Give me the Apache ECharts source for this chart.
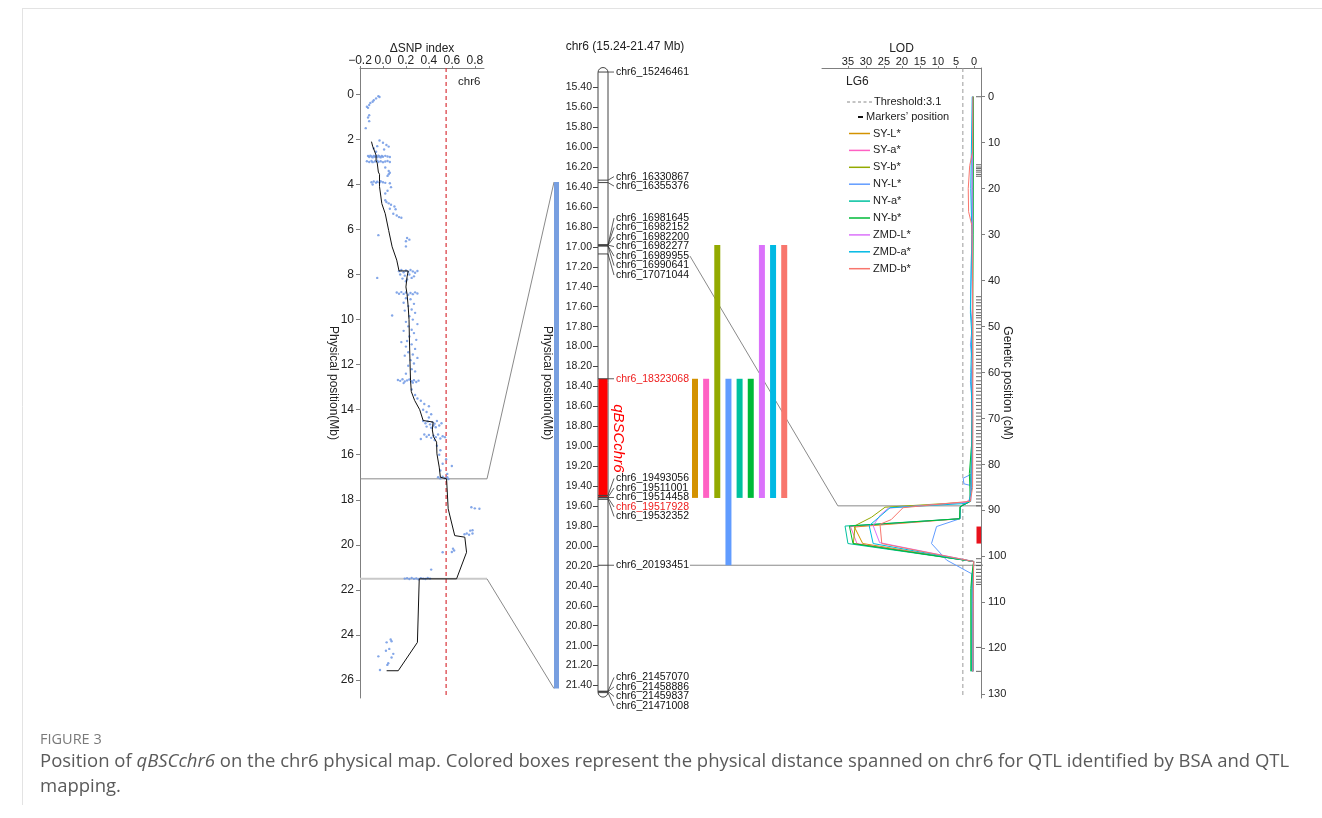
<!DOCTYPE html>
<html><head><meta charset="utf-8">
<script src="https://cdn.jsdelivr.net/npm/echarts@6/dist/echarts.min.js"></script>
<style>html,body{margin:0;padding:0;background:#fff;}#c{width:1322px;height:818px;}</style>
</head><body><div id="c"></div>
<script>
// ---------------- DATA ----------------
// Left panel: ΔSNP index along chr6
const snpXTicks = [-0.2, 0, 0.2, 0.4, 0.6, 0.8];
const snpYTicks = [0, 2, 4, 6, 8, 10, 12, 14, 16, 18, 20, 22, 24, 26];
const snpThreshold = 0.55;
const snpPoints = [
[-0.04,0.08],[-0.03,0.12],[-0.06,0.18],[-0.08,0.26],[-0.09,0.33],[-0.11,0.38],[-0.12,0.47],[-0.14,0.55],[-0.13,0.6],[-0.12,0.93],[-0.13,1.03],[-0.12,1.19],[-0.15,1.5],
[-0.03,2.05],[0.0,2.15],[0.03,2.25],[-0.05,2.3],[0.05,2.32],[-0.08,2.4],[0.01,2.45],[-0.06,2.55],
[-0.13,2.74],[-0.12,2.78],[-0.11,2.72],[-0.1,2.76],[-0.09,2.8],[-0.08,2.73],[-0.07,2.77],[-0.06,2.74],[-0.05,2.79],[-0.04,2.72],[-0.03,2.76],[-0.02,2.8],[-0.01,2.74],[0.0,2.77],[0.02,2.73],[0.04,2.76],[0.06,2.78],
[-0.14,2.97],[-0.12,3.0],[-0.1,2.96],[-0.09,3.01],[-0.07,2.98],[-0.05,2.95],[-0.04,3.0],[-0.02,2.97],[0.0,3.01],[0.02,2.98],[0.04,2.96],[0.06,3.0],
[0.02,3.25],[0.05,3.4],[0.06,3.48],[0.05,3.55],[0.04,3.62],
[-0.1,3.9],[-0.08,3.87],[-0.06,3.92],[-0.05,3.88],[-0.03,3.91],[-0.02,3.86],[0.0,3.9],[0.02,3.93],[-0.09,4.0],[0.06,3.95],[0.07,4.12],[0.04,4.28],[0.02,4.4],
[0.02,4.7],[0.03,4.78],[0.05,4.84],[0.07,4.9],[0.1,4.98],[0.11,5.1],[0.06,5.08],[0.09,5.3],[0.12,5.38],[0.14,5.45],[0.16,5.48],
[-0.04,6.25],[0.21,6.38],[0.23,6.45],[0.2,6.52],[0.2,6.75],
[0.14,7.85],[0.16,7.8],[0.18,7.9],[0.2,7.82],[0.22,7.88],[0.24,7.8],[0.26,7.86],[0.28,7.92],[0.3,7.84],[0.15,8.0],[0.19,8.05],[0.23,8.0],[0.27,8.08],[0.17,8.18],[0.21,8.22],[0.25,8.15],[0.2,8.3],[-0.05,8.15],
[0.12,8.8],[0.14,8.85],[0.16,8.78],[0.18,8.86],[0.2,8.8],[0.22,8.9],[0.24,8.82],[0.26,8.87],[0.28,8.79],[0.3,8.84],
[0.2,9.05],[0.24,9.1],[0.18,9.25],[0.27,9.3],[0.22,9.4],[0.25,9.55],[0.19,9.6],[0.08,9.82],[0.28,9.7],[0.23,9.85],[0.26,10.0],[0.2,10.1],[0.3,10.2],[0.22,10.3],[0.25,10.45],[0.18,10.5],[0.27,10.6],[0.23,10.75],[0.29,10.9],[0.21,10.95],[0.16,11.0],[0.25,11.1],[0.2,11.2],[0.28,11.3],[0.22,11.45],[0.26,11.55],[0.19,11.6],[0.3,11.7],[0.24,11.8],[0.27,11.95],[0.22,12.05],[0.25,12.2],[0.28,12.3],[0.2,12.4],
[0.13,12.68],[0.15,12.72],[0.17,12.65],[0.19,12.75],[0.21,12.7],[0.23,12.66],[0.25,12.74],[0.27,12.69],[0.29,12.77],[0.31,12.71],[0.18,12.82],[0.26,12.8],
[0.25,13.1],[0.28,13.35],[0.3,13.5],[0.33,13.6],[0.36,13.75],[0.4,13.85],[0.35,14.0],[0.38,14.1],[0.42,14.2],[0.4,14.35],
[0.35,14.5],[0.37,14.6],[0.39,14.52],[0.41,14.65],[0.43,14.55],[0.45,14.62],[0.47,14.5],[0.49,14.7],[0.51,14.6],[0.38,14.75],[0.42,14.8],[0.46,14.78],[0.44,14.7],
[0.36,15.1],[0.38,15.2],[0.4,15.12],[0.42,15.25],[0.44,15.15],[0.46,15.22],[0.48,15.1],[0.5,15.28],[0.52,15.18],[0.54,15.22],[0.45,15.35],[0.33,15.3],
[0.47,15.6],[0.5,15.8],[0.49,16.0],[0.55,16.2],[0.52,16.4],[0.6,16.5],[0.5,16.7],[0.56,16.85],
[0.48,17.0],[0.5,17.05],[0.52,16.98],[0.54,17.04],[0.56,17.0],[0.57,17.08],
[0.77,18.33],[0.8,18.38],[0.84,18.4],[0.76,19.37],[0.78,19.35],[0.71,19.53],[0.73,19.5],[0.75,19.55],[0.78,19.5],[0.61,20.17],[0.62,20.25],[0.6,20.32],[0.52,20.33],
[0.42,21.1],
[0.19,21.5],[0.21,21.48],[0.23,21.52],[0.25,21.47],[0.27,21.51],[0.29,21.49],[0.31,21.53],[0.33,21.48],[0.35,21.5],[0.37,21.52],[0.39,21.47],[0.41,21.5],
[0.067,24.2],[0.075,24.28],[0.032,24.33],[0.055,24.62],[0.026,24.7],[0.09,24.84],[0.075,25.0],[-0.04,24.95],[0.046,25.26],[0.038,25.33],[-0.026,25.56]
];
const snpLine = [[-0.1,2.1],[-0.09,2.3],[-0.06,2.7],[-0.055,2.76],[-0.06,2.95],[-0.05,3.05],[-0.04,3.45],[-0.03,3.55],[-0.03,3.88],[-0.04,3.9],[-0.03,4.1],[-0.01,4.85],[0.02,5.3],[0.04,5.8],[0.05,6.05],[0.08,6.77],[0.12,7.36],[0.14,7.84],[0.22,7.84],[0.21,8.1],[0.2,8.55],[0.21,8.88],[0.22,9.44],[0.227,10.0],[0.23,10.77],[0.235,11.8],[0.24,12.7],[0.247,13.2],[0.276,13.59],[0.32,14.0],[0.35,14.48],[0.437,14.55],[0.43,14.9],[0.44,15.2],[0.467,15.44],[0.47,15.96],[0.49,16.55],[0.5,17.0],[0.554,17.07],[0.568,18.4],[0.625,19.59],[0.713,19.66],[0.728,20.33],[0.641,21.51],[0.316,21.51],[0.3,24.33],[0.133,25.59],[0.032,25.59]];
const snpWindow = [17.07, 21.51];     // zoomed window on the ΔSNP plot (Mb)
const bsaBar = [16.35, 21.43];        // blue BSA bar on the physical map (Mb)

// Middle panel: chr6 physical map
const chromTitle = 'chr6 (15.24-21.47 Mb)';
const chromTicks = [15.4,15.6,15.8,16.0,16.2,16.4,16.6,16.8,17.0,17.2,17.4,17.6,17.8,18.0,18.2,18.4,18.6,18.8,19.0,19.2,19.4,19.6,19.8,20.0,20.2,20.4,20.6,20.8,21.0,21.2,21.4];
const markerNames = ['chr6_15246461','chr6_16330867','chr6_16355376','chr6_16981645','chr6_16982152','chr6_16982200','chr6_16982277','chr6_16989955','chr6_16990641','chr6_17071044','chr6_18323068','chr6_19493056','chr6_19511001','chr6_19514458','chr6_19517928','chr6_19532352','chr6_20193451','chr6_21457070','chr6_21458886','chr6_21459837','chr6_21471008'];
const redMarkers = ['chr6_18323068','chr6_19517928'];
const qtlName = 'qBSCchr6';
const qtlRegion = [18.323068, 19.517928];
const qtlTraits = ['SY-L*','SY-a*','SY-b*','NY-L*','NY-a*','NY-b*','ZMD-L*','ZMD-a*','ZMD-b*'];
const qtlColors = ['#D39200','#FF61C3','#93AA00','#619CFF','#00C19F','#00BA38','#DB72FB','#00B9E3','#F8766D'];
const qtlStart = [18.323068,18.323068,16.982277,18.323068,18.323068,18.323068,16.982277,16.982277,16.982277];
const qtlEnd   = [19.517928,19.517928,19.517928,20.193451,19.517928,19.517928,19.517928,19.517928,19.517928];

// Right panel: LOD profile on LG6
const lodTicks = [0,5,10,15,20,25,30,35];
const cmTicks = [0,10,20,30,40,50,60,70,80,90,100,110,120,130];
const lodThreshold = 3.1;
const lodSYL = [[0.3,0],[0.3,15],[0.4,30],[0.4,45],[0.4,60],[0.5,75],[0.8,82],[1.0,87],[1.5,88.2],[3.8,89.2],[3.9,91.8],[33.2,93.6],[30.9,97.2],[0.1,101.1],[0.2,104],[0.4,110],[0.4,125]];
const lodSYa = [[0.4,0],[0.5,20],[0.4,40],[0.5,60],[0.6,80],[1.1,87.5],[3.8,89.2],[3.9,91.8],[34.3,93.5],[32.5,97.2],[0.1,101.1],[0.3,105],[0.5,115],[0.4,125]];
const lodSYb = [[0.3,0],[0.3,20],[0.4,40],[0.4,60],[0.5,80],[1.0,87.5],[2.0,88.2],[24.7,89.3],[28.5,91.5],[33.0,93.3],[33.5,97.2],[0.1,101.1],[0.3,105],[0.4,125]];
const lodNYL = [[0.4,0],[0.4,15],[0.6,30],[1.0,46],[0.5,50],[1.0,54],[0.4,58],[1.0,62],[0.5,66],[0.5,82],[3.0,83],[2.8,84.2],[0.8,84.6],[0.9,88],[3.8,89.2],[3.9,91.8],[10.4,93.5],[11.8,97.2],[7.6,100.8],[0.6,103.8],[0.5,110],[0.5,125]];
const lodNYa = [[0.3,0],[0.3,30],[0.5,50],[0.5,70],[0.9,82],[1.1,88],[3.8,89.2],[3.9,91.8],[35.8,93.4],[35.0,97.2],[0.1,101.1],[0.6,106],[0.7,125]];
const lodNYb = [[0.2,0],[0.3,30],[0.4,60],[0.6,75],[1.3,82],[1.0,88],[3.9,89.2],[4.0,91.8],[34.6,93.4],[33.6,97.2],[0.1,101.1],[0.6,104],[0.9,107],[0.9,125]];
const lodZMDL = [[0.4,0],[0.5,20],[0.4,40],[0.5,60],[0.5,80],[1.0,87.5],[2.0,88.2],[23.8,89.5],[26.0,91],[28.0,93.3],[26.2,97.0],[0.1,101.1],[0.3,110],[0.3,125]];
const lodZMDa = [[0.5,0],[0.9,20],[0.6,30],[1.0,47],[0.6,52],[0.9,60],[0.5,70],[0.6,85],[1.3,88],[2.5,88.5],[23.3,89.4],[29.1,93.3],[28.0,97.2],[0.1,101.1],[0.2,105],[0.2,125]];
const lodZMDb = [[0.3,0],[0.4,12],[1.2,15],[1.6,20],[1.5,25],[0.6,28],[0.4,40],[0.3,70],[0.4,85],[1.0,88],[19.7,89.4],[23.0,92],[26.1,93.0],[25.6,97.2],[0.1,101.1],[0.2,110],[0.3,125]];
const lodCurves = [lodSYL, lodSYa, lodSYb, lodNYL, lodNYa, lodNYb, lodZMDL, lodZMDa, lodZMDb];
const markerCM = [0,14.8,15.3,15.6,16.0,16.4,16.9,17.3,43.5,44.2,44.8,45.5,46.3,47.0,47.6,48.1,48.9,49.6,50.4,51.2,52.0,52.8,53.5,54.1,54.9,55.6,56.3,57.1,57.8,58.5,59.2,60.1,60.9,61.8,62.6,63.4,64.1,64.9,65.7,66.5,67.2,68.0,68.8,69.5,70.3,71.1,71.8,72.6,73.3,74.0,74.8,75.5,76.3,77.0,77.8,78.5,79.3,80.1,80.8,81.6,82.3,83.0,83.8,84.5,85.2,86.0,86.8,87.5,88.2,89.0,100.5,101.3,102.0,102.8,103.5,104.3,105.0,105.6,106.1,119.8,125.0];
const qtlCM = [93.5, 97.2];
const linkCM = 89.0;      // genetic position joined to chr6_16989955
const linkLOD = 37.8;

// ---------------- CHART ----------------
const FONT = '"Liberation Sans", Arial, Helvetica, sans-serif';
const GRAY = '#7f7f7f';
const physMin = 15.206, physMax = 21.525;
const snpYMin = -1.17, snpYMax = 26.8;
const lodMin = -1.94, lodMax = 42.2;
const cmMin = -6.25, cmMax = 130.8;
const markerMb = markerNames.map(n => parseInt(n.split('_')[1], 10) / 1e6);
const chromRange = [markerMb[0], markerMb[markerMb.length - 1]];

// label layout (spread overlapping labels, evenly spaced)
const labelGapMb = 9.5 * (physMax - physMin) / 630;
function layoutLabels(pos, gap) {
  const blocks = pos.map(p => ({ n: 1, sum: p }));
  let changed = true;
  while (changed) {
    changed = false;
    for (let i = 0; i < blocks.length - 1; i++) {
      const a = blocks[i], b = blocks[i + 1];
      const aEnd = a.sum / a.n + (a.n - 1) * gap / 2;
      const bStart = b.sum / b.n - (b.n - 1) * gap / 2;
      if (bStart - aEnd < gap) { a.n += b.n; a.sum += b.sum; blocks.splice(i + 1, 1); changed = true; break; }
    }
  }
  const out = [];
  blocks.forEach(b => { const c = b.sum / b.n; for (let k = 0; k < b.n; k++) out.push(c + (k - (b.n - 1) / 2) * gap); });
  return out;
}
const labelMb = layoutLabels(markerMb, labelGapMb);

const chart = echarts.init(document.getElementById('c'));
const labelFont = '10.5px ' + FONT;

const lodSeries = lodCurves.map((d, i) => ({
  type: 'line', name: qtlTraits[i], xAxisIndex: 4, yAxisIndex: 4, data: d,
  symbol: 'none', lineStyle: { color: qtlColors[i], width: 1 }, z: 3
}));

const nameStyle = { fontSize: 12, color: '#222' };
const option = {
  animation: false,
  backgroundColor: '#fff',
  textStyle: { fontFamily: FONT },
  grid: [
    { left: 360, top: 68, width: 124, height: 630 },
    { left: 598, top: 68, width: 10, height: 630 },
    { left: 554, top: 68, width: 5, height: 630 },
    { left: 689.4, top: 68, width: 100.4, height: 630 },
    { left: 822, top: 68, width: 159, height: 630 }
  ],
  xAxis: [
    { gridIndex: 0, type: 'value', position: 'top', min: -0.2, max: 0.88,
      name: 'ΔSNP index', nameLocation: 'middle', nameGap: 13, nameMoveOverlap: false,
      nameTextStyle: nameStyle,
      axisLine: { show: true, onZero: false, lineStyle: { color: GRAY } },
      axisTick: { show: true, length: 2, customValues: snpXTicks, lineStyle: { color: GRAY } },
      axisLabel: { customValues: snpXTicks, fontSize: 12, color: '#222', margin: 1,
        formatter: v => (v < -1e-9 ? '\u2212' : '') + Math.abs(v).toFixed(1) },
      splitLine: { show: false } },
    { gridIndex: 1, type: 'value', min: 0, max: 1, show: false },
    { gridIndex: 2, type: 'value', min: 0, max: 1, show: false },
    { gridIndex: 3, type: 'category', data: qtlTraits, show: false },
    { gridIndex: 4, type: 'value', position: 'top', inverse: true, min: lodMin, max: lodMax,
      name: 'LOD', nameLocation: 'middle', nameGap: 13, nameMoveOverlap: false,
      nameTextStyle: nameStyle,
      axisLine: { show: true, onZero: false, lineStyle: { color: GRAY } },
      axisTick: { show: true, length: 2, customValues: lodTicks, lineStyle: { color: GRAY } },
      axisLabel: { customValues: lodTicks, fontSize: 11, color: '#222', margin: 1 },
      splitLine: { show: false } }
  ],
  yAxis: [
    { gridIndex: 0, type: 'value', inverse: true, min: snpYMin, max: snpYMax,
      name: 'Physical position(Mb)', nameLocation: 'middle', nameGap: 21, nameRotate: -90, nameMoveOverlap: false,
      nameTextStyle: nameStyle,
      axisLine: { show: true, onZero: false, lineStyle: { color: GRAY } },
      axisTick: { show: true, length: 4, customValues: snpYTicks, lineStyle: { color: GRAY } },
      axisLabel: { customValues: snpYTicks, fontSize: 12, color: '#222', margin: 6 },
      splitLine: { show: false } },
    { gridIndex: 1, type: 'value', inverse: true, min: physMin, max: physMax,
      name: 'Physical position(Mb)', nameLocation: 'middle', nameGap: 45, nameRotate: -90, nameMoveOverlap: false,
      nameTextStyle: nameStyle,
      axisLine: { show: false, onZero: false },
      axisTick: { show: true, length: 5, customValues: chromTicks, lineStyle: { color: '#444' } },
      axisLabel: { customValues: chromTicks, fontSize: 10.5, color: '#222', margin: 6, formatter: v => v.toFixed(2) },
      splitLine: { show: false } },
    { gridIndex: 2, type: 'value', inverse: true, min: physMin, max: physMax, show: false },
    { gridIndex: 3, type: 'value', inverse: true, min: physMin, max: physMax, show: false },
    { gridIndex: 4, type: 'value', position: 'right', inverse: true, min: cmMin, max: cmMax,
      name: 'Genetic position (cM)', nameLocation: 'middle', nameGap: 20, nameRotate: -90, nameMoveOverlap: false,
      nameTextStyle: nameStyle,
      axisLine: { show: true, onZero: false, lineStyle: { color: GRAY } },
      axisTick: { show: true, length: 4, customValues: cmTicks, lineStyle: { color: GRAY } },
      axisLabel: { customValues: cmTicks, fontSize: 11, color: '#222', margin: 7 },
      splitLine: { show: false } }
  ],
  series: [
    { type: 'scatter', xAxisIndex: 0, yAxisIndex: 0, data: snpPoints, symbolSize: 2.4,
      itemStyle: { color: '#6f98e4', opacity: 0.85 }, z: 2 },
    { type: 'line', xAxisIndex: 0, yAxisIndex: 0, data: snpLine, symbol: 'none',
      lineStyle: { color: '#111', width: 1 }, z: 3 },
    { type: 'line', xAxisIndex: 0, yAxisIndex: 0, data: [[snpThreshold, snpYMin], [snpThreshold, snpYMax]],
      symbol: 'none', lineStyle: { color: '#d9343a', width: 1.2, type: [4, 3] }, z: 1 },
    // chromosome
    { type: 'custom', xAxisIndex: 1, yAxisIndex: 1, data: [[0]], z: 2,
      renderItem: (params, api) => {
        const tl = api.coord([0, chromRange[0]]), br = api.coord([1, chromRange[1]]);
        const left = tl[0], right = br[0], top = tl[1], bottom = br[1], cap = 4.5;
        const r1 = api.coord([0, qtlRegion[0]])[1], r2 = api.coord([0, qtlRegion[1]])[1];
        const children = [
          { type: 'rect', shape: { x: left, y: top - cap, width: right - left, height: bottom - top + 2 * cap, r: 5 },
            style: { fill: '#fff', stroke: '#444', lineWidth: 1 } },
          { type: 'rect', shape: { x: left + 0.5, y: r1, width: right - left - 1, height: r2 - r1 },
            style: { fill: '#ff0000' } }
        ];
        markerMb.forEach(m => {
          const y = api.coord([0, m])[1];
          children.push({ type: 'line', shape: { x1: left, y1: y, x2: right, y2: y }, style: { stroke: '#444', lineWidth: 1 } });
        });
        children.push({ type: 'text', x: right + 10.5, y: (r1 + r2) / 2, rotation: -Math.PI / 2,
          style: { text: qtlName, fill: '#ff0000', font: 'italic 15px ' + FONT, align: 'center', verticalAlign: 'middle' } });
        return { type: 'group', children };
      } },
    // marker labels
    { type: 'custom', xAxisIndex: 1, yAxisIndex: 1, z: 3,
      data: markerMb.map((m, i) => [1, m, labelMb[i]]),
      renderItem: (params, api) => {
        const i = params.dataIndex;
        const p1 = api.coord([1, api.value(1)]), p2 = api.coord([1, api.value(2)]);
        const red = redMarkers.indexOf(markerNames[i]) >= 0;
        return { type: 'group', children: [
          { type: 'line', shape: { x1: p1[0], y1: p1[1], x2: p1[0] + 6, y2: p2[1] }, style: { stroke: '#333', lineWidth: 0.8 } },
          { type: 'text', x: p1[0] + 8, y: p2[1],
            style: { text: markerNames[i], fill: red ? '#ee1c1c' : '#111', font: labelFont, align: 'left', verticalAlign: 'middle' } }
        ] };
      } },
    // BSA bar
    { type: 'custom', xAxisIndex: 2, yAxisIndex: 2, data: [[0, bsaBar[0], bsaBar[1]]],
      renderItem: (params, api) => {
        const a = api.coord([0, api.value(1)]), b = api.coord([1, api.value(2)]);
        return { type: 'rect', shape: { x: a[0], y: a[1], width: b[0] - a[0], height: b[1] - a[1] }, style: { fill: '#789fe0' } };
      } },
    // QTL interval bars
    { type: 'custom', xAxisIndex: 3, yAxisIndex: 3,
      data: qtlTraits.map((t, i) => [i, qtlStart[i], qtlEnd[i]]),
      renderItem: (params, api) => {
        const a = api.coord([api.value(0), api.value(1)]), b = api.coord([api.value(0), api.value(2)]);
        return { type: 'rect', shape: { x: a[0] - 3, y: a[1], width: 6, height: b[1] - a[1] },
          style: { fill: qtlColors[params.dataIndex] } };
      } },
    ...lodSeries,
    { type: 'line', xAxisIndex: 4, yAxisIndex: 4, data: [[lodThreshold, cmMin], [lodThreshold, cmMax]], symbol: 'none',
      lineStyle: { color: '#9a9a9a', width: 1, type: [4, 3] }, z: 2 },
    // markers' position rug
    { type: 'custom', xAxisIndex: 4, yAxisIndex: 4, data: markerCM.map(c => [lodMin, c]), z: 4,
      renderItem: (params, api) => {
        const p = api.coord([api.value(0), api.value(1)]);
        return { type: 'line', shape: { x1: p[0] - 5, y1: p[1], x2: p[0], y2: p[1] }, style: { stroke: '#333', lineWidth: 1, opacity: 0.75 } };
      } },
    // QTL box on genetic axis
    { type: 'custom', xAxisIndex: 4, yAxisIndex: 4, data: [[lodMin, qtlCM[0], qtlCM[1]]], z: 5,
      renderItem: (params, api) => {
        const a = api.coord([api.value(0), api.value(1)]), b = api.coord([api.value(0), api.value(2)]);
        return { type: 'rect', shape: { x: a[0] - 4.5, y: a[1], width: 4.5, height: b[1] - a[1] }, style: { fill: '#e8111b' } };
      } }
  ]
};
chart.setOption(option);

// ---------- annotations (connectors, legend, texts) ----------
const P = (g, pt) => chart.convertToPixel({ gridIndex: g }, pt);
const ctx = document.createElement('canvas').getContext('2d');
ctx.font = labelFont;
const g = [];
// left zoom connectors
const w1 = P(0, [-0.2, snpWindow[0]]), w1r = P(0, [0.88, snpWindow[0]]);
const w2 = P(0, [-0.2, snpWindow[1]]), w2r = P(0, [0.88, snpWindow[1]]);
const b1 = P(2, [0, bsaBar[0]]), b2 = P(2, [0, bsaBar[1]]);
g.push({ type: 'polyline', shape: { points: [[w1[0], w1[1]], [w1r[0] + 3, w1[1]], [b1[0], b1[1]]] }, style: { stroke: '#8a8a8a', lineWidth: 1, fill: null }, z: 1 });
g.push({ type: 'line', shape: { x1: w2[0], y1: w2[1], x2: w2r[0] + 3, y2: w2[1] }, style: { stroke: '#c9c9c9', lineWidth: 2 }, z: 1 });
g.push({ type: 'line', shape: { x1: w2r[0] + 3, y1: w2[1], x2: b2[0], y2: b2[1] }, style: { stroke: '#8a8a8a', lineWidth: 1 }, z: 1 });
// middle -> right connectors
const chromRight = P(1, [1, chromRange[0]])[0];
const lodRightX = P(4, [lodMin, 0])[0] + 2;
function labelEnd(name) {
  const i = markerNames.indexOf(name);
  return [chromRight + 8 + ctx.measureText(name).width + 1, P(1, [1, labelMb[i]])[1]];
}
const e1 = labelEnd('chr6_16989955');
const t1 = P(4, [linkLOD, linkCM]);
g.push({ type: 'polyline', shape: { points: [e1, t1, [lodRightX, t1[1]]] }, style: { stroke: '#8a8a8a', lineWidth: 1, fill: null }, z: 1 });
const e2 = labelEnd('chr6_20193451');
g.push({ type: 'line', shape: { x1: e2[0], y1: e2[1], x2: lodRightX, y2: e2[1] }, style: { stroke: '#8a8a8a', lineWidth: 1 }, z: 1 });

// texts
const tx = (text, x, y, opt) => g.push({ type: 'text', x, y, style: Object.assign({ text, fill: '#222', font: '12px ' + FONT, align: 'left', verticalAlign: 'middle' }, opt || {}) });
tx(chromTitle, 625, 47, { align: 'center' });
tx('chr6', 458, 82, { font: '11.5px ' + FONT });
tx('LG6', 846, 82, { font: '12px ' + FONT });

// legend for the LOD panel
const legX = 849, legTextX = 873;
g.push({ type: 'line', shape: { x1: 847, y1: 102, x2: 872, y2: 102 }, style: { stroke: '#888', lineWidth: 1, lineDash: [3, 2.5] } });
tx('Threshold:' + lodThreshold, 874, 102, { font: '11px ' + FONT });
g.push({ type: 'line', shape: { x1: 858, y1: 117, x2: 863, y2: 117 }, style: { stroke: '#111', lineWidth: 2 } });
tx('Markers\u2019 position', 866, 117, { font: '11px ' + FONT });
qtlTraits.forEach((t, i) => {
  const y = 133.5 + i * 16.9;
  g.push({ type: 'line', shape: { x1: legX, y1: y, x2: legX + 21, y2: y }, style: { stroke: qtlColors[i], lineWidth: 1.5 } });
  tx(t, legTextX, y, { font: '11px ' + FONT });
});

// frame and caption
g.push({ type: 'line', shape: { x1: 22, y1: 8.5, x2: 1322, y2: 8.5 }, style: { stroke: '#e3e3e3', lineWidth: 1 } });
g.push({ type: 'line', shape: { x1: 22.5, y1: 8, x2: 22.5, y2: 805 }, style: { stroke: '#e3e3e3', lineWidth: 1 } });
g.push({ type: 'text', x: 40, y: 740, style: { text: 'FIGURE 3', fill: '#7a7a7a', font: '14.5px "Open Sans", sans-serif', verticalAlign: 'middle' } });
g.push({ type: 'text', x: 40, y: 762, style: {
  text: 'Position of {i|qBSCchr6} on the chr6 physical map. Colored boxes represent the physical distance spanned on chr6 for QTL identified by BSA and QTL',
  fill: '#5a5a5a', font: '18.5px "Open Sans", sans-serif', verticalAlign: 'middle',
  rich: { i: { fontStyle: 'italic', fontSize: 18.5, fontFamily: '"Open Sans", sans-serif', fill: '#5a5a5a' } } } });
g.push({ type: 'text', x: 40, y: 787, style: { text: 'mapping.', fill: '#5a5a5a', font: '18.5px "Open Sans", sans-serif', verticalAlign: 'middle' } });

chart.setOption({ graphic: g });
</script></body></html>
